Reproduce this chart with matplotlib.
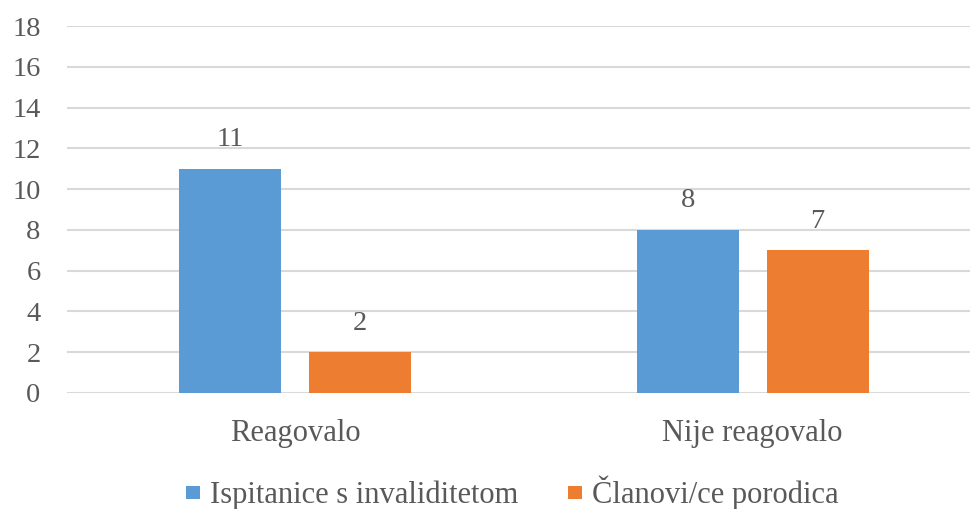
import matplotlib
matplotlib.use("Agg")
import matplotlib.pyplot as plt
import numpy as np
from matplotlib.patches import Patch

categories = ["Reagovalo", "Nije reagovalo"]
series_names = ["Ispitanice s invaliditetom", "Članovi/ce porodica"]
ispitanice = [11, 8]
clanovi = [2, 7]
y_ticks = list(range(0, 20, 2))

BLUE = "#5B9BD5"
ORANGE = "#ED7D31"
TEXT = "#595959"
GRID = "#D9D9D9"

plt.rcParams["font.family"] = ["Liberation Serif", "DejaVu Serif"]

fig = plt.figure(figsize=(9.72, 5.09), dpi=100)
ax = fig.add_axes([67 / 972, 1 - 393 / 509, 903 / 972, 367 / 509])

x = np.arange(len(categories))
w = 0.223
off = 0.142
b1 = ax.bar(x - off, ispitanice, w, color=BLUE, zorder=3)
b2 = ax.bar(x + off, clanovi, w, color=ORANGE, zorder=3)

for bars, vals in ((b1, ispitanice), (b2, clanovi)):
    for rect, v in zip(bars, vals):
        ax.annotate(str(v), xy=(rect.get_x() + rect.get_width() / 2, v),
                    xytext=(0, 12), textcoords="offset points",
                    ha="center", va="bottom", fontsize=20.5, color=TEXT)

ax.set_ylim(0, 18)
ax.set_yticks(y_ticks)
ax.set_xlim(-0.498, 1.475)
ax.set_xticks(x)
ax.set_xticklabels(categories)
ax.yaxis.grid(True, color=GRID, linewidth=1.5, zorder=0)
ax.set_axisbelow(True)
for s in ax.spines.values():
    s.set_visible(False)
ax.tick_params(axis="y", length=0, labelsize=20.5, labelcolor=TEXT, pad=19)
ax.tick_params(axis="x", length=0, labelsize=22, labelcolor=TEXT, pad=19)

# square legend keys: legend height = h*fs - 0.35*fs*(h - 0.7)
handles = [Patch(facecolor=BLUE), Patch(facecolor=ORANGE)]
fig.legend(handles, series_names, loc="center", bbox_to_anchor=(0.527, 1 - 493 / 509),
           ncol=2, frameon=False, fontsize=22, labelcolor=TEXT,
           handlelength=0.45, handleheight=0.285, handletextpad=0.33, columnspacing=1.63)

fig.savefig("out.png", dpi=100)
